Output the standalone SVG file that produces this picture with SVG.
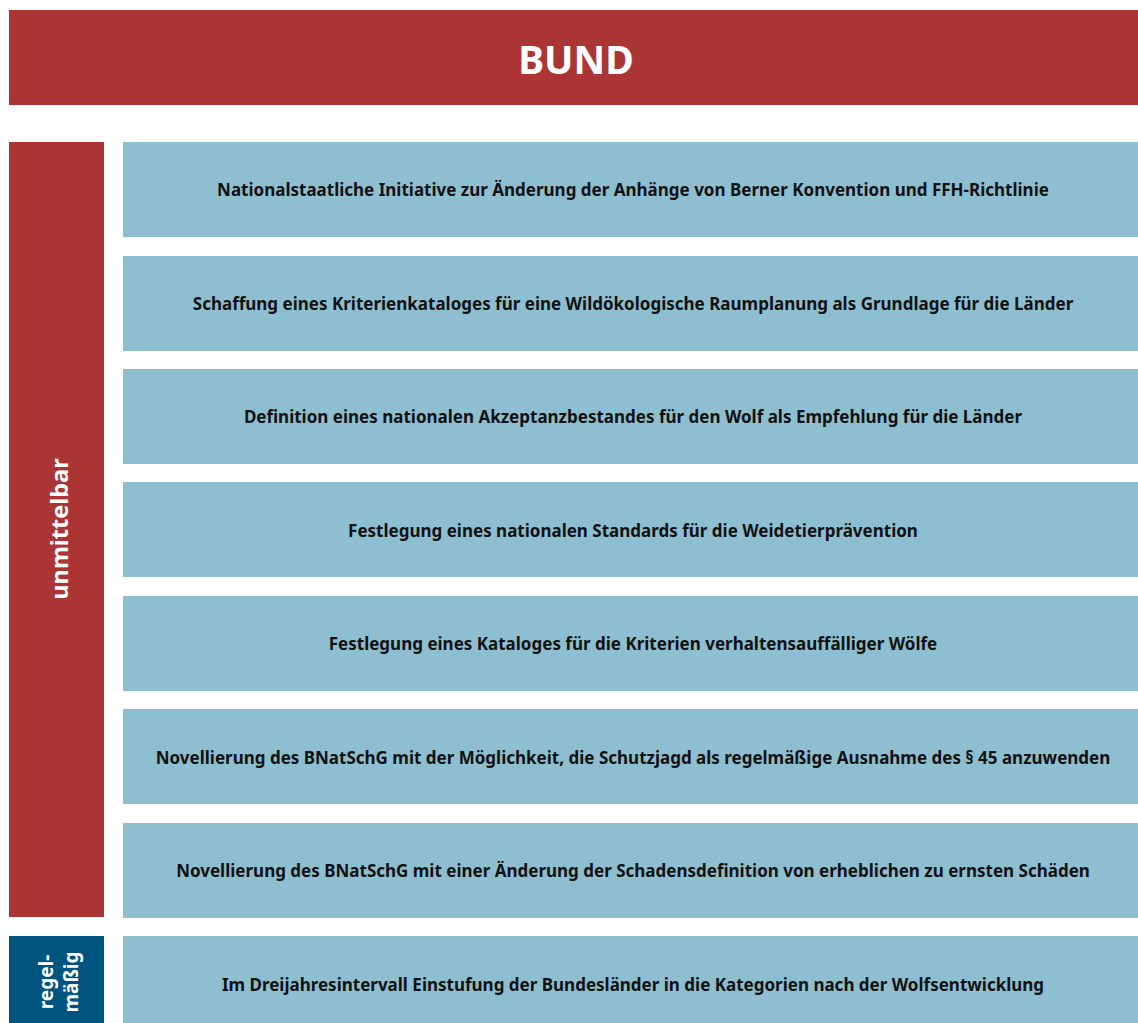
<svg xmlns="http://www.w3.org/2000/svg" width="1138" height="1023" viewBox="0 0 1138 1023">
<style>
.red{fill:#AB3535}
.box{fill:#8DBFD1}
.dark{fill:#005580}
.t{font-family:"Noto Sans","Open Sans","DejaVu Sans",sans-serif;font-weight:bold;font-size:17px;fill:#111;text-anchor:middle;dominant-baseline:central}
.w{font-family:"Noto Sans","Open Sans","DejaVu Sans",sans-serif;font-weight:bold;fill:#fff;text-anchor:middle;dominant-baseline:central}
</style>
<rect width="1138" height="1023" fill="#fff"/>
<g id="header"><rect class="red" x="9" y="10" width="1129" height="95"/><text class="w" x="576" y="58" font-size="39">BUND</text></g>
<g id="unmittelbar"><rect class="red" x="9" y="142" width="95" height="775"/><text class="w" font-size="23.5" transform="translate(59,529) rotate(-90)">unmittelbar</text></g>
<g id="regelmaessig"><rect class="dark" x="9" y="936" width="95" height="87"/><text class="w" font-size="19" transform="translate(46,982) rotate(-90)">regel-</text><text class="w" font-size="19" transform="translate(71,982) rotate(-90)">mäßig</text></g>
<g id="n1"><rect class="box" x="123" y="142" width="1015" height="95"/><text class="t" x="633" y="189">Nationalstaatliche Initiative zur Änderung der Anhänge von Berner Konvention und FFH-Richtlinie</text></g>
<g id="n2"><rect class="box" x="123" y="256" width="1015" height="95"/><text class="t" x="633" y="303">Schaffung eines Kriterienkataloges für eine Wildökologische Raumplanung als Grundlage für die Länder</text></g>
<g id="n3"><rect class="box" x="123" y="369" width="1015" height="95"/><text class="t" x="633" y="416">Definition eines nationalen Akzeptanzbestandes für den Wolf als Empfehlung für die Länder</text></g>
<g id="n4"><rect class="box" x="123" y="482" width="1015" height="95"/><text class="t" x="633" y="530">Festlegung eines nationalen Standards für die Weidetierprävention</text></g>
<g id="n5"><rect class="box" x="123" y="596" width="1015" height="95"/><text class="t" x="633" y="643">Festlegung eines Kataloges für die Kriterien verhaltensauffälliger Wölfe</text></g>
<g id="n6"><rect class="box" x="123" y="709" width="1015" height="95"/><text class="t" x="633" y="757">Novellierung des BNatSchG mit der Möglichkeit, die Schutzjagd als regelmäßige Ausnahme des § 45 anzuwenden</text></g>
<g id="n7"><rect class="box" x="123" y="823" width="1015" height="95"/><text class="t" x="633" y="870">Novellierung des BNatSchG mit einer Änderung der Schadensdefinition von erheblichen zu ernsten Schäden</text></g>
<g id="n8"><rect class="box" x="123" y="936" width="1015" height="87"/><text class="t" x="633" y="984">Im Dreijahresintervall Einstufung der Bundesländer in die Kategorien nach der Wolfsentwicklung</text></g>
<g id="connectors"/>
</svg>
